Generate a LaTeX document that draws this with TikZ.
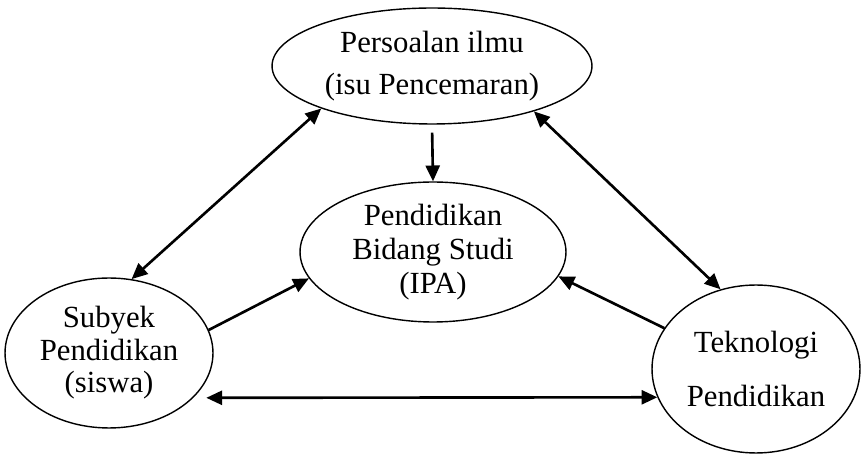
\documentclass[tikz,border=0pt]{standalone}
\usepackage{fontspec}
\setmainfont{Liberation Serif}
\usetikzlibrary{shapes.geometric,arrows.meta}

\begin{document}
\begin{tikzpicture}[x=0.02cm,y=-0.02cm]
		\tikzstyle{every node}+=[inner sep=-1cm, align=center, font=\fontsize{17.5}{19}\selectfont]
		\tikzstyle{blob}=[draw, ellipse, line width=0.8pt]
		\tikzstyle{arr}=[line width=1.5pt, -{Triangle[length=9pt,width=8pt]}]
		\tikzstyle{dbl}=[line width=1.5pt, {Triangle[length=9pt,width=8pt]}-{Triangle[length=9pt,width=8pt]}]
		\useasboundingbox (0,0) rectangle (862,455);
		\node [blob, minimum width=6.4cm, minimum height=2.32cm] (isu) at (432,66) {Persoalan ilmu\\[5pt](isu Pencemaran)};
		\node [blob, minimum width=5.32cm, minimum height=2.8cm] (ipa) at (433,252) {Pendidikan\\[0.5pt]Bidang Studi\\[0.5pt](IPA)};
		\node [blob, minimum width=4.16cm, minimum height=3cm] (siswa) at (109,353) {Subyek\\[-0.5pt]Pendidikan\\[-0.5pt](siswa)};
		\node [blob, minimum width=4.16cm, minimum height=3.36cm] (tek) at (756,369) {Teknologi\\[12pt]Pendidikan};
		\draw [arr, shorten <=0.16cm] (isu.south) -- (ipa.north);
		\draw [dbl] (siswa.73.3) -- (isu.201.4);
		\draw [dbl] (isu.-24.3) -- (tek.114.6);
		\draw [arr] (siswa.13.5) -- (ipa.192.3);
		\draw [arr] (tek.156.4) -- (ipa.-11.9);
		\draw [dbl, shorten <=0.26cm] (siswa.-28.5) -- (tek.196.5);
	\end{tikzpicture}
\end{document}
